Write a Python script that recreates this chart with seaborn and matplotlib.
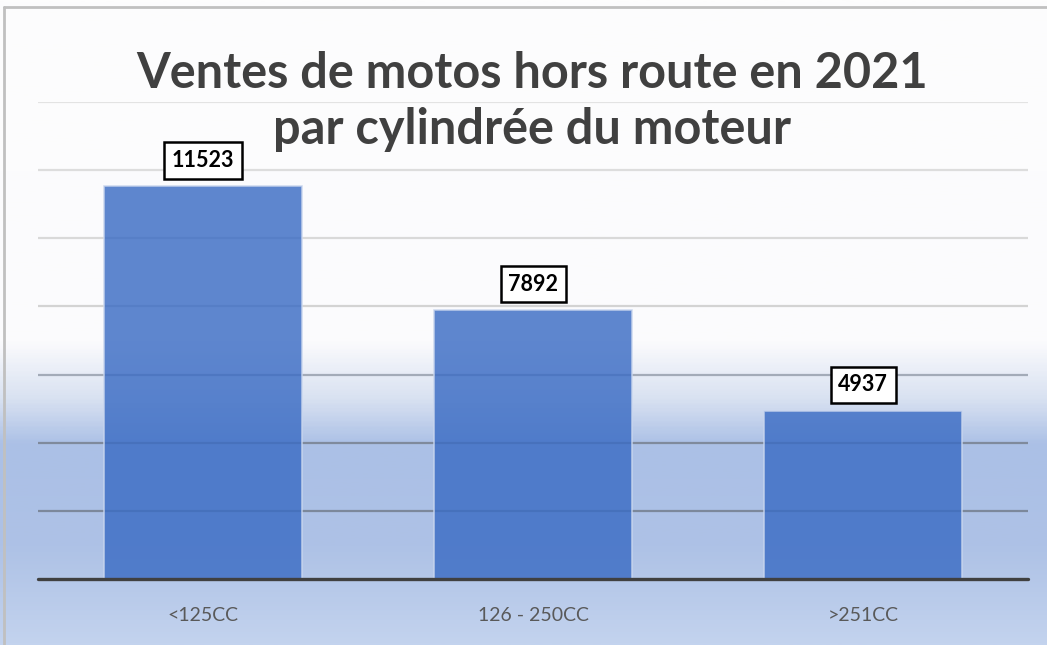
import numpy as np
import pandas as pd
import matplotlib
matplotlib.use("Agg")
import matplotlib.pyplot as plt
from matplotlib.colors import LinearSegmentedColormap
import seaborn as sns

# données
categories = ["<125CC", "126 - 250CC", ">251CC"]
ventes = [11523, 7892, 4937]
grille = [2000, 4000, 6000, 8000, 10000, 12000, 14000]

df = pd.DataFrame({"Cylindree": categories, "Ventes": ventes})

sns.set_theme(style="white")
plt.rcParams["font.family"] = ["Lato", "DejaVu Sans"]

fig = plt.figure(figsize=(10.47, 6.45), dpi=100)

# fond dégradé façon Excel
bg = fig.add_axes([0, 0, 1, 1], zorder=0)
cmap = LinearSegmentedColormap.from_list("fond", [
    (0.0, "#fdfdfd"), (0.53, "#fbfbfd"), (0.62, "#d8e1f1"),
    (0.69, "#abc0e6"), (0.85, "#aec2e6"), (1.0, "#c3d3ee")])
grad = np.linspace(0, 1, 400).reshape(-1, 1)
bg.imshow(grad, aspect="auto", cmap=cmap, extent=[0, 1, 0, 1], origin="upper")
bg.plot([0.004, 0.004], [0, 0.989], color="#c0c0c0", lw=2)
bg.plot([0.004, 1], [0.989, 0.989], color="#c0c0c0", lw=2)
bg.set_xlim(0, 1)
bg.set_ylim(0, 1)
bg.axis("off")

ax = fig.add_axes([0.0363, 0.1023, 0.9457, 0.7397], zorder=1)
ax.patch.set_alpha(0)

# lignes de grille
couleurs_grille = ["#7c889b", "#7f8a9c", "#a3abb8", "#d3d3d3", "#d9d9d9", "#dddddd", "#e3e3e3"]
for g, c in zip(grille, couleurs_grille):
    ax.axhline(g, color=c, lw=1.6, zorder=0)

sns.barplot(data=df, x="Cylindree", y="Ventes", color="#3b6cc4", saturation=1,
            width=0.6, alpha=0.82, edgecolor="#c9d6ee", linewidth=1.2, ax=ax, zorder=2)

ax.set_xlim(-0.5, 2.5)
ax.set_ylim(0, 14000)
ax.axhline(0, color="#404040", lw=2.4, zorder=3, clip_on=False)
for s in ax.spines.values():
    s.set_visible(False)
ax.set_yticks([])
ax.set_xlabel("")
ax.set_ylabel("")
ax.tick_params(axis="x", length=0, pad=20, labelsize=14, labelcolor="#595959")

for i, v in enumerate(ventes):
    ax.text(i, v + 450, str(v), ha="center", va="bottom", fontsize=15.5,
            fontweight="bold", color="#000000", zorder=4,
            bbox=dict(boxstyle="square,pad=0.35", fc="white", ec="black", lw=1.8))

fig.text(0.508, 0.843, "Ventes de motos hors route en 2021\npar cylindrée du moteur",
         ha="center", va="center", fontsize=35, fontweight="bold",
         color="#404040", linespacing=1.3)

fig.savefig("out.png", dpi=100)
